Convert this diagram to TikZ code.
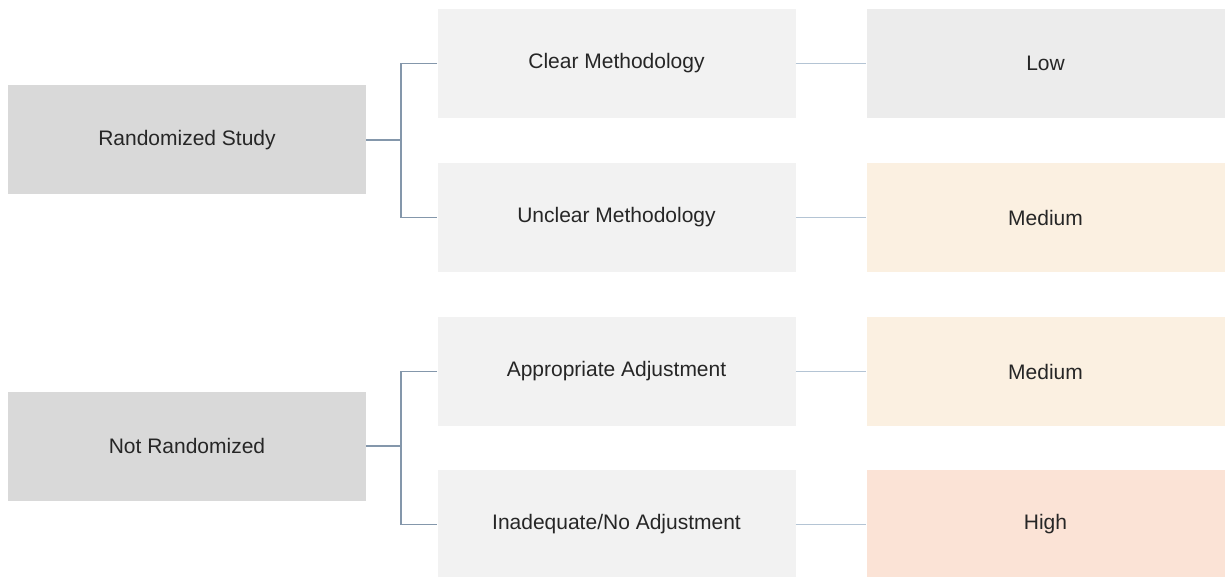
\documentclass[tikz,border=0pt]{standalone}
\usepackage{fontspec}
\setmainfont{Liberation Sans}
\definecolor{rootfill}{HTML}{D9D9D9}
\definecolor{midfill}{HTML}{F2F2F2}
\definecolor{lowfill}{HTML}{ECECEC}
\definecolor{medfill}{HTML}{FBF0E1}
\definecolor{highfill}{HTML}{FBE3D6}
\definecolor{linkdark}{HTML}{8497AB}
\definecolor{linklight}{HTML}{B4C4D4}
\begin{document}
\begin{tikzpicture}[x=1pt,y=-1pt,
  box/.style={minimum width=358pt,minimum height=109pt,inner sep=0pt,
    font=\fontsize{21}{25}\selectfont,text=black!85},
  rootbox/.style={box,fill=rootfill},
  midbox/.style={box,fill=midfill},
  link/.style={draw=linkdark,line width=1.1pt},
  rlink/.style={draw=linklight,line width=1.1pt}]
\useasboundingbox (0,0) rectangle (1225,577);
% first column
\node[rootbox] (rs) at (187,140) {Randomized Study};
\node[rootbox] (nr) at (187,446) {Not Randomized};
% second column
\node[midbox] (cm) at (616.5,63.5) {Clear Methodology};
\node[midbox] (um) at (616.5,217.5) {Unclear Methodology};
\node[midbox] (aa) at (616.5,371.5) {Appropriate Adjustment};
\node[midbox] (ia) at (616.5,524.5) {Inadequate/No Adjustment};
% third column
\node[box,fill=lowfill] (lo) at (1045.5,63.5) {Low};
\node[box,fill=medfill] (m1) at (1045.5,217.5) {Medium};
\node[box,fill=medfill] (m2) at (1045.5,371.5) {Medium};
\node[box,fill=highfill] (hi) at (1045.5,524.5) {High};
% branching connectors
\coordinate (j1) at (401,140);
\coordinate (j2) at (401,446);
\draw[link] (rs.east) -- (j1);
\draw[link] (cm.west) -| (j1) |- (um.west);
\draw[link] (nr.east) -- (j2);
\draw[link] (aa.west) -| (j2) |- (ia.west);
% outcome connectors
\draw[rlink] (cm.east) -- (lo.west);
\draw[rlink] (um.east) -- (m1.west);
\draw[rlink] (aa.east) -- (m2.west);
\draw[rlink] (ia.east) -- (hi.west);
\end{tikzpicture}
\end{document}
